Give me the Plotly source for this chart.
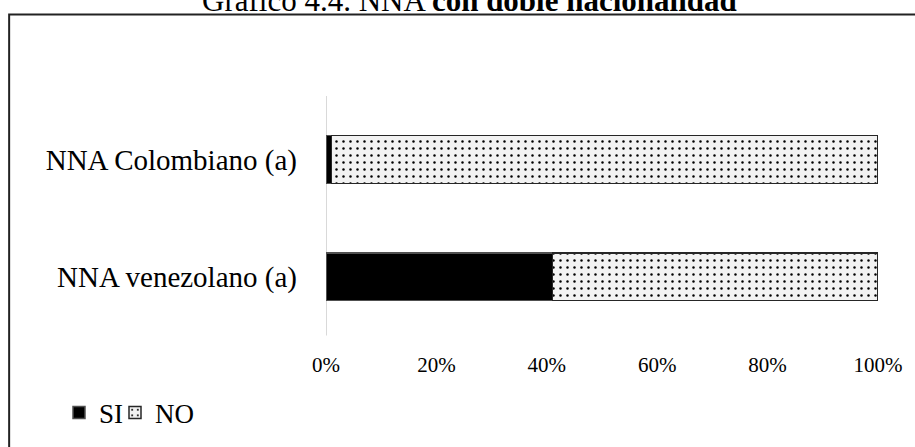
import plotly.graph_objects as go

categories = ["NNA venezolano (a)", "NNA Colombiano (a)"]
si_values = [0.41, 0.01]
no_values = [0.59, 0.99]
tick_vals = [0, 0.2, 0.4, 0.6, 0.8, 1.0]
tick_text = ["0%", "20%", "40%", "60%", "80%", "100%"]

W, H = 915, 447
L, R, T, B = 326, 35, 96, 104
SERIF = "Liberation Serif, Times New Roman, serif"

fig = go.Figure()
fig.add_trace(go.Bar(
    y=categories, x=si_values, orientation="h", name="SI",
    marker=dict(color="black", line=dict(color="#505050", width=1.5)),
    width=0.405,
))
fig.add_trace(go.Bar(
    y=categories, x=no_values, orientation="h", name="NO",
    marker=dict(color="#f2f2f2", line=dict(color="#262626", width=1.5),
                pattern=dict(shape=".", bgcolor="#f2f2f2", fgcolor="black",
                             size=7, solidity=0.1, fillmode="replace")),
    width=0.405,
))
# invisible spacer entry so the last legend label is not clipped
fig.add_trace(go.Bar(
    y=[categories[0]], x=[0], orientation="h", name=" ",
    marker=dict(color="rgba(0,0,0,0)", line=dict(width=0)),
    hoverinfo="skip", width=0.405,
))

ph = H - T - B
def py2paper(py):
    return (H - B - py) / ph
def px2paper(px):
    return (px - L) / (W - L - R)

shapes = [
    dict(type="rect", xref="paper", yref="paper",
         x0=px2paper(8), x1=px2paper(940), y0=py2paper(470), y1=py2paper(12),
         line=dict(color="#222222", width=2), fillcolor="rgba(0,0,0,0)", layer="below"),
    dict(type="line", xref="x", yref="paper", x0=0, x1=0, y0=0, y1=1,
         line=dict(color="#d9d9d9", width=2), layer="below"),
]

fig.update_layout(
    width=W, height=H, barmode="stack",
    margin=dict(l=L, r=R, t=T, b=B),
    paper_bgcolor="white", plot_bgcolor="white",
    showlegend=True,
    legend=dict(orientation="h", xref="container", yref="container",
                x=(99 - 40) / W, y=1 - 413 / H, xanchor="left", yanchor="middle",
                font=dict(family=SERIF, size=27, color="black"),
                entrywidth=11, traceorder="normal", bgcolor="rgba(0,0,0,0)"),
    xaxis=dict(range=[0, 1.0], tickvals=tick_vals, ticktext=tick_text,
               showgrid=False, zeroline=False, showline=False,
               tickfont=dict(family=SERIF, size=21, color="black"),
               ticks="", ticklabelstandoff=14),
    yaxis=dict(range=[-0.5, 1.541], showgrid=False, zeroline=False, showline=False,
               tickfont=dict(family=SERIF, size=29, color="black"),
               ticks="", ticklabelstandoff=28),
    shapes=shapes,
    annotations=[dict(
        text="Gráfico 4.4. NNA <b>con doble nacionalidad</b>",
        xref="paper", yref="paper", x=px2paper(470), y=py2paper(18),
        xanchor="center", yanchor="bottom", showarrow=False,
        font=dict(family=SERIF, size=31, color="black"))],
)

fig.write_html("out.html")
